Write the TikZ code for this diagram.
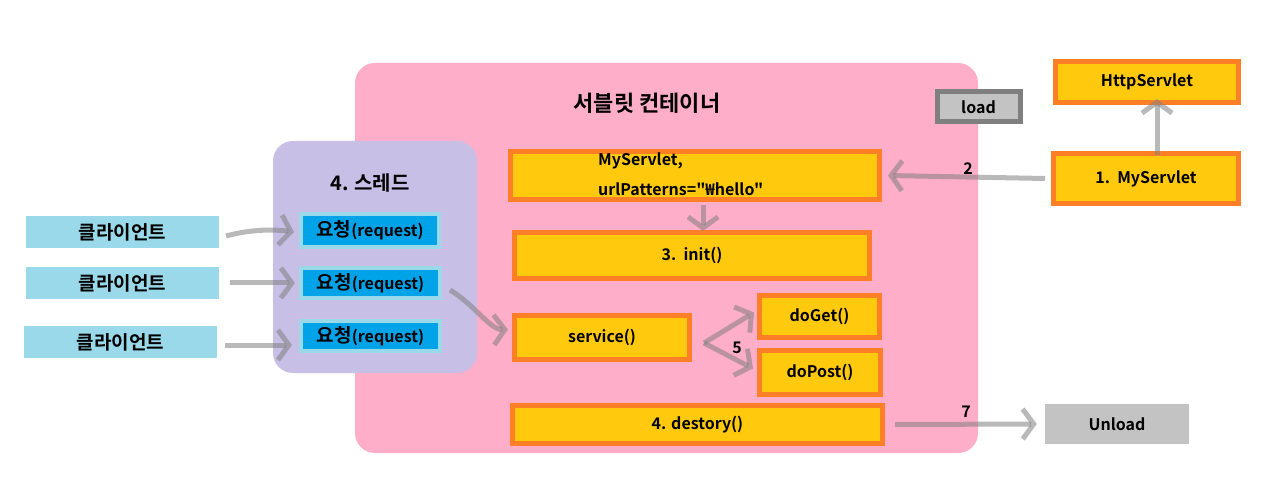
\documentclass[tikz,border=0pt]{standalone}
\usepackage{fontspec}
\setmainfont{Noto Sans CJK KR}[Ligatures=TeXOff, BoldFont={* Bold}]
\usetikzlibrary{arrows.meta}
\definecolor{pinkbg}{RGB}{255,174,201}
\definecolor{lav}{RGB}{200,191,231}
\definecolor{ybox}{RGB}{255,201,14}
\definecolor{obord}{RGB}{255,127,39}
\definecolor{req}{RGB}{0,162,232}
\definecolor{lblue}{RGB}{153,217,234}
\definecolor{lgray}{RGB}{195,195,195}
\definecolor{dgray}{RGB}{127,127,127}
\newcommand{\ko}[1]{{\fontsize{19}{22}\selectfont #1}}
\tikzset{
  txt/.style={font=\bfseries\fontsize{16}{19}\selectfont},
  ybx/.style={draw=obord, line width=5pt, fill=ybox, inner sep=0pt, txt},
  reqbx/.style={draw=lblue, line width=4pt, fill=req, inner sep=0pt, txt},
  clbx/.style={fill=lblue, inner sep=0pt, txt},
  arr/.style={draw=gray, line width=5pt, opacity=0.55, -{Straight Barb[length=11pt,width=30pt,line width=5pt]}},
  lbl/.style={txt, inner sep=0pt}
}
\begin{document}
\begin{tikzpicture}[x=1pt,y=-1pt]
\useasboundingbox[fill=white] (0,0) rectangle (1284,502);
% containers
\node[fill=pinkbg, rounded corners=20pt, minimum width=623, minimum height=390, inner sep=0pt] (cont) at (666.5,258) {};
\node[lbl, font=\bfseries\fontsize{22}{26}\selectfont] (conttitle) at (647,103) {서블릿 컨테이너};
\node[fill=lav, rounded corners=20pt, minimum width=204, minimum height=232, inner sep=0pt] (thr) at (375,257) {};
\node[lbl, font=\bfseries\fontsize{20}{24}\selectfont] (thrtitle) at (370,183) {4. 스레드};
% load
\node[draw=dgray, line width=5pt, fill=lgray, minimum width=83, minimum height=30, inner sep=0pt, txt] (load) at (978.5,107) {load};
% yellow boxes
\node[ybx, minimum width=369, minimum height=48] (ms) at (695,175.5) {};
\node[lbl, anchor=west] (ms1) at (598,161) {MyServlet,};
\node[lbl, anchor=west] (ms2) at (598,189) {urlPatterns="₩hello"};
\node[ybx, minimum width=355, minimum height=46] (init) at (692,255.5) {3.\ \ init()};
\node[ybx, minimum width=175, minimum height=44] (serv) at (602,337.5) {service()};
\node[ybx, minimum width=120, minimum height=42] (get) at (819.5,316.5) {doGet()};
\node[ybx, minimum width=121, minimum height=44] (post) at (820,372.5) {doPost()};
\node[ybx, minimum width=370, minimum height=38] (dest) at (697.5,424.5) {4. destory()};
\node[ybx, minimum width=183, minimum height=41] (http) at (1147,82) {HttpServlet};
\node[ybx, minimum width=185, minimum height=50] (my1) at (1146,178.5) {1.\ \ MyServlet};
\node[fill=lgray, minimum width=144, minimum height=40, inner sep=0pt, txt] (unl) at (1117,424) {Unload};
% requests
\node[reqbx, minimum width=138, minimum height=33] (r1) at (370,230.5) {\ko{요청}(request)};
\node[reqbx, minimum width=139, minimum height=30] (r2) at (370.5,283) {\ko{요청}(request)};
\node[reqbx, minimum width=139, minimum height=30] (r3) at (370.5,336) {\ko{요청}(request)};
% clients
\node[clbx, minimum width=193, minimum height=32] (c1) at (122.5,232) {\ko{클라이언트}};
\node[clbx, minimum width=193, minimum height=32] (c2) at (122.5,283) {\ko{클라이언트}};
\node[clbx, minimum width=193, minimum height=32] (c3) at (120.5,342) {\ko{클라이언트}};
% arrows
\coordinate (a1s) at (226,236);
\coordinate (a1e) at (294,232);
\draw[arr] (a1s) .. controls (255,228) and (280,230) .. (a1e);
\coordinate (a2s) at (230,283);
\draw[arr] (a2s) -- ([xshift=-4pt]r2.west);
\coordinate (a3s) at (225,345);
\coordinate (a3e) at (292,345);
\draw[arr] (a3s) -- (a3e);
\coordinate (a4s) at (450,290);
\draw[arr] (a4s) .. controls (475,305) and (490,330) .. ([xshift=-4pt,yshift=8pt]serv.west);
\coordinate (a5s) at (704,343);
\draw[arr] (a5s) -- ([xshift=-3pt,yshift=4pt]get.west);
\draw[arr] (a5s) -- ([xshift=-4pt,yshift=4pt]post.west);
\node[lbl] (l5) at (737,348) {5};
\draw[arr] (ms.south -| 703,0) ++(0,3) -- ([yshift=-1pt]init.north -| 703,0);
\draw[arr] ([xshift=-6pt]my1.west) -- ([xshift=6pt]ms.east);
\node[lbl] (l2) at (968,169) {2};
\draw[arr] ([yshift=-4pt]my1.north -| 1157,0) -- ([yshift=6pt]http.south -| 1157,0);
\draw[arr] ([xshift=10pt]dest.east) -- ([xshift=-8pt]unl.west);
\node[lbl] (l7) at (966,412) {7};
\end{tikzpicture}
\end{document}
